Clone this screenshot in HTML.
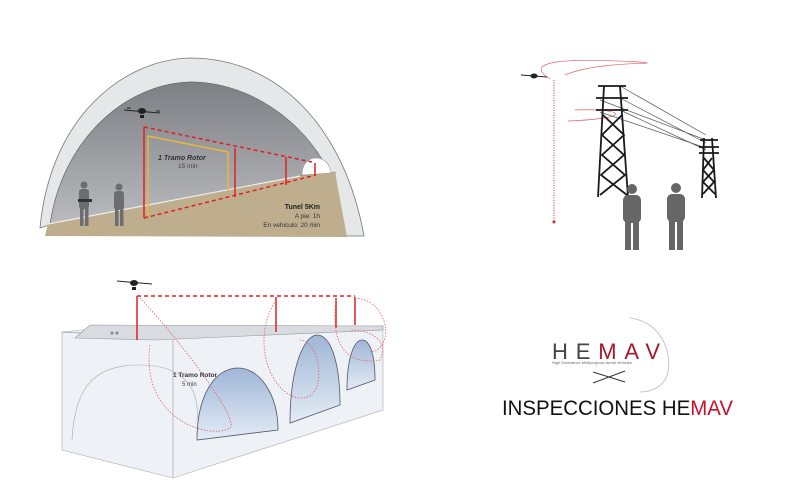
<!DOCTYPE html>
<html><head><meta charset="utf-8"><style>
html,body{margin:0;padding:0;background:#fff;}
svg{display:block;}
text{font-family:"Liberation Sans",sans-serif;}
</style></head><body>
<svg width="800" height="488" viewBox="0 0 800 488" xmlns="http://www.w3.org/2000/svg">
<defs>
<linearGradient id="tin" x1="0" y1="0" x2="0" y2="1"><stop offset="0" stop-color="#7d7f84"/><stop offset="1" stop-color="#b9bbbf"/></linearGradient>
<linearGradient id="arch" x1="0" y1="0" x2="0" y2="1"><stop offset="0" stop-color="#9fb6d6"/><stop offset="1" stop-color="#e4ecf6"/></linearGradient>
</defs>
<!-- TUNNEL -->
<path d="M40,228 C50,120 120,60 190,58 C280,58 345,130 364,236 L346,236 C330,150 270,82 190,82 C125,84 62,140 50,225 Z" fill="#e6e7e9" stroke="#777" stroke-width="0.8"/>
<path d="M50,225 C62,140 125,84 190,82 C270,82 330,150 338,200 L335,172 L300,176 L48,224 Z" fill="url(#tin)" stroke="#666" stroke-width="0.6"/>
<path d="M48,224 L300,176 L335,172 L347,237 L45,236 Z" fill="#bfae8e"/>
<path d="M48,224 L300,176" stroke="#eee" stroke-width="1.2"/>
<path d="M302,175 C302,162 310,158 316,158 C324,158 330,164 331,173 Z" fill="#fff" stroke="#999" stroke-width="0.6"/>
<g fill="#6b6d70">
<circle cx="84" cy="185" r="3.5"/><rect x="79" y="189" width="10" height="20" rx="3"/><rect x="80" y="208" width="3.5" height="18"/><rect x="85" y="208" width="3.5" height="18"/><rect x="78" y="199" width="14" height="3" fill="#333"/>
<circle cx="119" cy="187" r="3.5"/><rect x="114" y="191" width="10" height="19" rx="3"/><rect x="115" y="209" width="3.5" height="17"/><rect x="120" y="209" width="3.5" height="17"/>
</g>
<g stroke="#222" stroke-width="1"><line x1="124" y1="110" x2="160" y2="113"/><line x1="127" y1="108" x2="131" y2="108"/><line x1="156" y1="111" x2="160" y2="111"/></g>
<ellipse cx="142" cy="111" rx="4" ry="3" fill="#222"/><rect x="140" y="115" width="4" height="3" fill="#222"/>
<g stroke="#e02020" stroke-width="1.5" fill="none">
<line x1="144" y1="127" x2="144" y2="218"/>
<path d="M144,127 L312,162 M144,218 L316,175" stroke-dasharray="4,3"/>
<line x1="235" y1="148" x2="235" y2="197"/><line x1="286" y1="157" x2="286" y2="185"/><line x1="315" y1="163" x2="315" y2="176"/>
</g>
<g stroke="#e8b63a" stroke-width="1.5" fill="none"><path d="M148,215 L148,136 L228,152 L228,190"/></g>
<text x="158" y="160" font-size="7" font-weight="bold" fill="#333" font-style="italic">1 Tramo Rotor</text>
<text x="178" y="168" font-size="6.5" fill="#444">15 min</text>
<text x="320" y="209" font-size="7" font-weight="bold" fill="#222" text-anchor="end">Tunel 5Km</text>
<text x="320" y="218" font-size="6.5" fill="#333" text-anchor="end">A pie:  1h</text>
<text x="320" y="227" font-size="6.5" fill="#333" text-anchor="end">En vehiculo: 20 min</text>

<!-- BRIDGE -->
<path d="M62,332 L90,329 L383,326 L383,410 L173,478 L62,450 Z" fill="#eef1f6" stroke="#aaa" stroke-width="0.6"/>
<path d="M62,332 L173,338 L383,326" fill="none" stroke="#999" stroke-width="0.7"/>
<path d="M173,338 L173,478" stroke="#aaa" stroke-width="0.7"/>
<path d="M75,338 L155,340 L383,330 L383,326 L90,325 Z" fill="#d8dbe0" stroke="#999" stroke-width="0.6"/>
<path d="M197,440 C197,395 215,368 238,368 C260,368 278,395 278,430 Z" fill="url(#arch)" stroke="#556" stroke-width="0.8"/>
<path d="M290,423 C290,365 305,335 317,335 C330,335 340,360 340,405 Z" fill="url(#arch)" stroke="#556" stroke-width="0.8"/>
<path d="M347,390 C347,355 355,340 362,340 C370,340 375,355 375,380 Z" fill="url(#arch)" stroke="#556" stroke-width="0.8"/>
<path d="M72,440 C75,380 100,365 140,365 C180,365 200,385 197,420" fill="none" stroke="#aaa" stroke-width="0.6"/>
<circle cx="112" cy="333" r="1.5" fill="#888"/><circle cx="117" cy="333" r="1.5" fill="#888"/>
<g stroke="#222" stroke-width="1"><line x1="117" y1="281" x2="152" y2="284"/></g>
<ellipse cx="134" cy="283" rx="4" ry="3" fill="#222"/><rect x="132" y="287" width="4" height="3" fill="#222"/>
<g stroke="#e02020" stroke-width="1.5" fill="none">
<path d="M137,296 L355,296" stroke-dasharray="4,3"/>
<line x1="137" y1="296" x2="137" y2="340"/><line x1="276" y1="297" x2="276" y2="332"/><line x1="336" y1="298" x2="336" y2="328"/><line x1="355" y1="297" x2="355" y2="325"/>
</g>
<g stroke="#e06060" stroke-width="0.8" fill="none" stroke-dasharray="1.5,1.5">
<path d="M140,298 C180,340 240,420 230,428 C210,440 140,420 150,345"/>
<path d="M276,300 C250,340 270,395 300,398 C330,400 320,340 300,340"/>
<path d="M336,300 C330,350 350,365 380,360 C390,340 370,330 350,330"/>
<path d="M355,298 C390,300 395,350 370,352"/>
</g>
<text x="173" y="377" font-size="6.5" font-weight="bold" fill="#333">1 Tramo Rotor</text>
<text x="182" y="386" font-size="6" fill="#444">5 min</text>

<!-- TOWERS -->
<g stroke="#e06060" stroke-width="0.7" fill="none">
<path d="M550,79 C520,60 570,58 640,62 C670,65 600,60 565,75"/>
<path d="M568,121 C640,118 620,108 575,110"/>
</g>
<line x1="554" y1="80" x2="554" y2="222" stroke="#d03030" stroke-width="1" stroke-dasharray="1,1.5"/>
<circle cx="554" cy="222" r="1.5" fill="#d03030"/>
<g stroke="#555" stroke-width="0.7">
<line x1="620" y1="86" x2="706" y2="135"/><line x1="620" y1="98" x2="706" y2="143"/><line x1="620" y1="110" x2="706" y2="150"/><line x1="600" y1="100" x2="706" y2="140"/><line x1="600" y1="112" x2="706" y2="148"/>
</g>
<g stroke="#1a1a1a" stroke-width="1.8" fill="none">
<path d="M604,86 L598,197 M620,86 L628,197"/>
<path d="M598,86 L626,86 M596,98 L628,98 M596,110 L628,110"/>
<path d="M603,115 L624,135 L602,155 L625,175 L600,195 M622,115 L602,135 L624,155 L601,175 L627,195"/>
<path d="M704,138 L702,198 M712,138 L716,198 M700,140 L718,140 M699,147 L719,147 M699,153 L719,153"/>
<path d="M704,158 L714,170 L703,182 L715,194 M712,158 L703,170 L714,182 L703,194"/>
</g>
<g fill="#666">
<circle cx="632" cy="189" r="5"/><rect x="623" y="195" width="18" height="28" rx="5"/><rect x="625" y="220" width="6" height="30"/><rect x="633" y="220" width="6" height="30"/>
<circle cx="676" cy="188" r="5"/><rect x="667" y="194" width="18" height="28" rx="5"/><rect x="669" y="219" width="6" height="31"/><rect x="677" y="219" width="6" height="31"/>
</g>
<g stroke="#222" stroke-width="1"><line x1="521" y1="75" x2="547" y2="77"/></g>
<ellipse cx="534" cy="76" rx="3.5" ry="2.5" fill="#222"/>

<!-- LOGO -->
<path d="M630,318 C660,322 672,350 668,372 C664,388 650,392 640,392" fill="none" stroke="#bbb" stroke-width="0.8"/>
<text x="552" y="359" font-size="22" fill="#444" textLength="108" lengthAdjust="spacing">HE<tspan fill="#a8182a">MAV</tspan></text>
<text x="552" y="364" font-size="4" fill="#666">High Endurance Multipurpose Aerial Vehicles</text>
<g stroke="#333" stroke-width="1"><line x1="593" y1="372" x2="625" y2="382"/><line x1="593" y1="383" x2="625" y2="371"/></g>
<text x="502" y="415" font-size="21" fill="#111" textLength="231" lengthAdjust="spacingAndGlyphs">INSPECCIONES HE<tspan fill="#c8102e">MAV</tspan></text>
</svg>
</body></html>
